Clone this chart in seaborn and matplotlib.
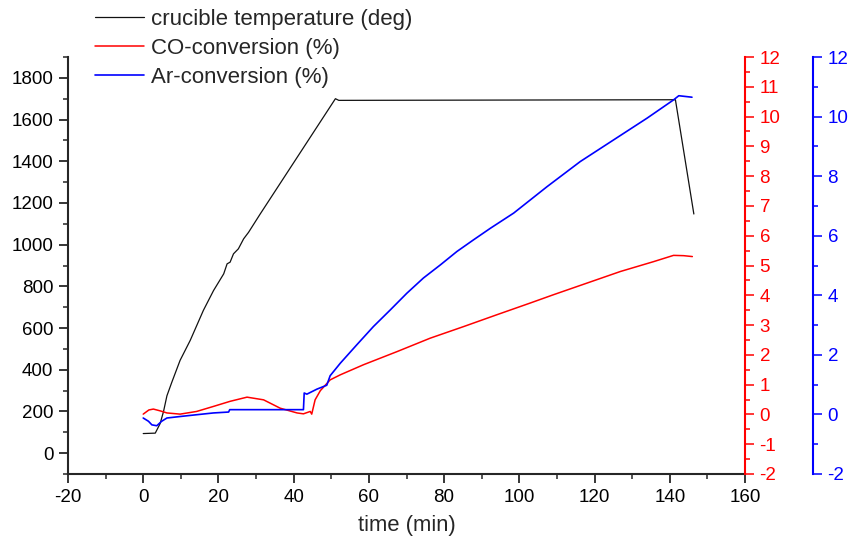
import matplotlib
matplotlib.use("Agg")
import matplotlib.pyplot as plt
from matplotlib.ticker import MultipleLocator
import seaborn as sns
import pandas as pd

# ---- data ----
temp_t = [0, 3.2, 4.5, 5.4, 6.3, 7.6, 9.8, 12.5, 16.0, 18.7, 21.4, 22.3, 23.1,
          24.0, 25.3, 26.7, 28.0, 31.1, 51.1, 52.0, 141.5, 146.4]
temp_v = [94, 96, 142, 200, 275, 340, 445, 541, 685, 780, 860, 908, 916,
          956, 980, 1028, 1059, 1147, 1700, 1692, 1695, 1147]

co_t = [0, 1.5, 2.7, 4.5, 6.3, 9.8, 14.2, 18.7, 23.1, 27.6, 32.0, 36.4, 40.9,
        42.6, 44.4, 44.8, 45.7, 47.1, 49.7, 52.4, 58.6, 67.5, 76.3, 85.2, 94.1,
        102.9, 109.1, 118.0, 126.9, 135.7, 141.0, 143.7, 146.0]
co_v = [0.01, 0.15, 0.18, 0.12, 0.05, 0.01, 0.10, 0.27, 0.44, 0.58, 0.49, 0.21, 0.05,
        0.02, 0.10, 0.01, 0.49, 0.80, 1.16, 1.33, 1.67, 2.11, 2.56, 2.95, 3.35,
        3.74, 4.02, 4.41, 4.80, 5.13, 5.34, 5.33, 5.30]

ar_t = [0, 1.4, 2.3, 3.6, 4.9, 6.3, 9.8, 14.2, 18.7, 22.7, 23.0, 42.6, 42.8, 43.5,
        46.2, 48.8, 49.7, 52.4, 56.8, 61.2, 65.7, 70.1, 74.5, 79.0, 83.4, 87.8,
        92.3, 98.5, 107.4, 116.2, 125.1, 134.0, 141.0, 142.4, 145.9]
ar_v = [-0.12, -0.23, -0.35, -0.38, -0.23, -0.12, -0.07, -0.01, 0.05, 0.08, 0.16, 0.16,
        0.72, 0.68, 0.85, 0.98, 1.30, 1.72, 2.34, 2.95, 3.51, 4.07, 4.58, 5.02, 5.47,
        5.86, 6.25, 6.76, 7.65, 8.49, 9.22, 9.95, 10.56, 10.70, 10.65]

labels = ["crucible temperature (deg)", "CO-conversion (%)", "Ar-conversion (%)"]
x_label = "time (min)"

sns.set_style("ticks")
plt.rcParams["font.family"] = ["Liberation Sans", "DejaVu Sans"]
plt.rcParams["axes.unicode_minus"] = False

W, H = 854, 548
fig = plt.figure(figsize=(W / 100, H / 100), dpi=100)
ax = fig.add_axes([68 / W, 1 - 474 / H, (745 - 68) / W, (474 - 57) / H])
ax2 = ax.twinx()
ax3 = ax.twinx()

df_t = pd.DataFrame({"t": temp_t, "v": temp_v})
df_c = pd.DataFrame({"t": co_t, "v": co_v})
df_a = pd.DataFrame({"t": ar_t, "v": ar_v})

sns.lineplot(data=df_t, x="t", y="v", ax=ax, color="#111111", linewidth=0.9,
             sort=False, legend=False)
sns.lineplot(data=df_c, x="t", y="v", ax=ax2, color="#ff0000", linewidth=1.1,
             sort=False, legend=False)
sns.lineplot(data=df_a, x="t", y="v", ax=ax3, color="#0000ff", linewidth=1.2,
             sort=False, legend=False)

ax.set_xlim(-20, 160)
ax.set_ylim(-100, 1900)
ax2.set_ylim(-2, 12)
ax3.set_ylim(-2, 12)

tick_fs = 13.5
spine_lw = 1.5
maj_len, min_len, tw = 6.5, 3.3, 1.1

ax.xaxis.set_major_locator(MultipleLocator(20))
ax.xaxis.set_minor_locator(MultipleLocator(10))
ax.set_yticks(range(0, 1801, 200))
ax.yaxis.set_minor_locator(MultipleLocator(100))
ax2.yaxis.set_major_locator(MultipleLocator(1))
ax2.yaxis.set_minor_locator(MultipleLocator(0.5))
ax3.yaxis.set_major_locator(MultipleLocator(2))
ax3.yaxis.set_minor_locator(MultipleLocator(1))

for a in (ax, ax2, ax3):
    a.set_ylabel("")
    a.spines["top"].set_visible(False)
    for s in a.spines.values():
        s.set_linewidth(spine_lw)

ax.spines["right"].set_visible(False)
ax.set_xlabel(x_label, fontsize=15.8, labelpad=7)
ax.tick_params(axis="both", which="major", direction="out", length=maj_len,
               width=tw, labelsize=tick_fs, colors="black", pad=4)
ax.tick_params(axis="both", which="minor", direction="out", length=min_len, width=tw)

for a, col in ((ax2, "#ff0000"), (ax3, "#0000ff")):
    a.spines["left"].set_visible(False)
    a.spines["bottom"].set_visible(False)
    a.spines["right"].set_color(col)
    a.tick_params(axis="y", which="major", direction="out", length=maj_len,
                  width=tw, labelsize=tick_fs, colors=col, pad=4)
    a.tick_params(axis="y", which="minor", direction="out", length=min_len,
                  width=tw, colors=col)

ax3.spines["right"].set_position(("axes", (813 - 68) / (745 - 68)))

handles = [ax.lines[0], ax2.lines[0], ax3.lines[0]]
fig.legend(handles, labels, loc="upper left",
           bbox_to_anchor=(95 / W, 1 - 9 / H), frameon=False, fontsize=16,
           handlelength=2.2, handletextpad=0.3, labelspacing=0.36,
           borderpad=0, borderaxespad=0)

fig.savefig("out.png", dpi=100)
